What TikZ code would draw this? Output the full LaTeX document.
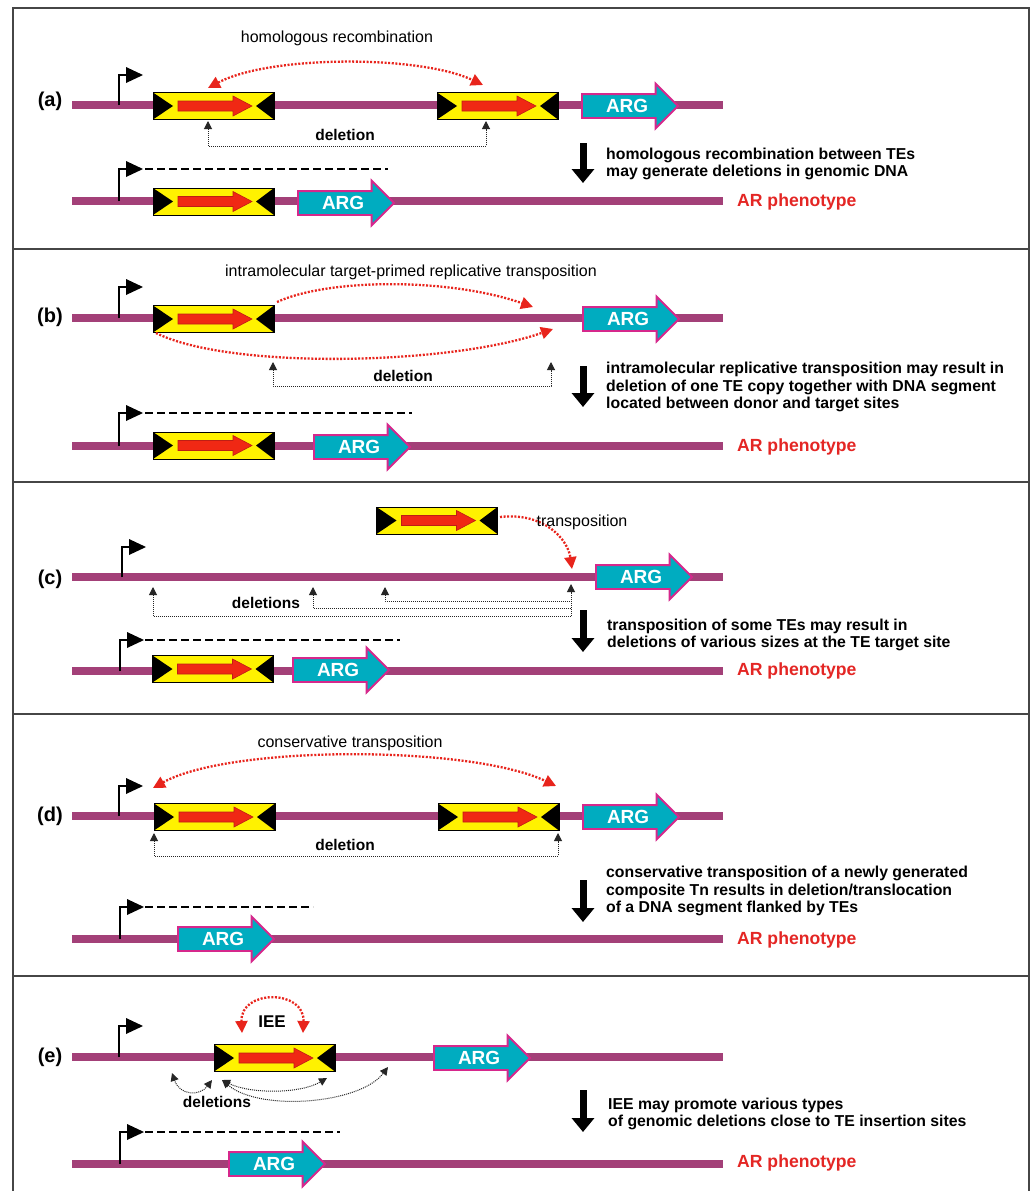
\documentclass[tikz,border=0pt]{standalone}
\usepackage{fontspec}
\setmainfont{Liberation Sans}
\usetikzlibrary{arrows.meta,shapes.arrows,calc}
\definecolor{dnacol}{RGB}{163,64,120}
\definecolor{teyellow}{RGB}{255,242,0}
\definecolor{tered}{RGB}{240,40,20}
\definecolor{tereddark}{RGB}{190,30,20}
\definecolor{argfill}{RGB}{0,172,192}
\definecolor{argedge}{RGB}{214,40,140}
\definecolor{phenored}{RGB}{228,38,36}
\definecolor{dotred}{RGB}{232,36,28}
\definecolor{framecol}{RGB}{70,70,70}
\newcommand{\promoterflag}[3]{%
  \draw[prom] (#1,#2) |- (#1+8,#3);
  \fill[black] (#1+7,#3-8) -- (#1+24,#3) -- (#1+7,#3+8) -- cycle;}
\tikzset{
  dna/.style={draw=dnacol, line width=7.5pt},
  prom/.style={draw=black, line width=2.6pt},
  txline/.style={draw=black, line width=2pt, dash pattern=on 8pt off 4pt},
  frame/.style={draw=framecol, line width=1.5pt},
  te/.style={rectangle, draw=black, line width=1pt, fill=teyellow,
    minimum width=121pt, minimum height=27pt, inner sep=0pt, outer sep=0pt,
    path picture={
      \fill[black] (path picture bounding box.north west) -- (path picture bounding box.south west) -- ($(path picture bounding box.west)+(20,0)$) -- cycle;
      \fill[black] (path picture bounding box.north east) -- (path picture bounding box.south east) -- ($(path picture bounding box.east)+(-18,0)$) -- cycle;
      \filldraw[fill=tered, draw=tereddark, line width=0.6pt]
        ($(path picture bounding box.west)+(25,-5)$) -- ++(55,0) -- ++(0,-5) -- ++(19,10) -- ++(-19,10) -- ++(0,-5) -- ++(-55,0) -- cycle;
    }},
  arg/.style={single arrow, draw=argedge, line width=1.8pt, fill=argfill,
    minimum height=96pt, inner xsep=0pt, inner ysep=11pt,
    single arrow head extend=10.5pt, outer sep=0pt, anchor=tail},
  argtxt/.style={text=white, font=\bfseries\fontsize{19}{19}\selectfont, inner sep=0pt, text depth=0pt},
  panellbl/.style={font=\bfseries\fontsize{20}{22}\selectfont, inner sep=0pt},
  mech/.style={font=\fontsize{16}{18}\selectfont, inner sep=0pt},
  deltxt/.style={font=\bfseries\fontsize{15.5}{18}\selectfont, inner sep=0pt},
  captxt/.style={font=\bfseries\fontsize{15.8}{17.8}\selectfont, align=left, inner sep=0pt, anchor=west},
  pheno/.style={font=\bfseries\fontsize{17.6}{19}\selectfont, text=phenored, inner sep=0pt, anchor=west},
  reddot/.style={draw=dotred, line width=2.3pt, dash pattern=on 2pt off 1.6pt},
  redtip/.tip={Triangle[length=12pt,width=12pt,fill=dotred,color=dotred]},
  blkdot/.style={draw=black!85, line width=1pt, dash pattern=on 1pt off 1pt},
  blktip/.tip={Triangle[length=8pt,width=8pt]},
  bigarrow/.style={draw=black, line width=7pt, -{Triangle[length=14pt,width=22pt]}}
}
\begin{document}
\begin{tikzpicture}[x=1pt,y=-1pt]
\useasboundingbox (0,0) rectangle (1035,1191);
\fill[white] (0,0) rectangle (1035,1191);
% frame
\draw[frame] (13,1200) -- (13,8) -- (1029,8) -- (1029,1200);
\draw[frame] (13,249) -- (1029,249);
\draw[frame] (13,482) -- (1029,482);
\draw[frame] (13,714) -- (1029,714);
\draw[frame] (13,976) -- (1029,976);

% ================= (a)
\node[panellbl] (la) at (50,101) {(a)};
\draw[dna] (72,105) -- (723,105);
\promoterflag{119}{105}{75}
\node[te] (ta1) at (213.5,106) {};
\node[te] (ta2) at (497.5,106) {};
\node[arg] (ga1) at (582,106) {};
\node[argtxt] at ($(ga1.tail)!0.47!(ga1.tip)$) {ARG};
\coordinate (ra1) at (208,88);
\coordinate (ra2) at (483,85);
\draw[reddot,redtip-redtip] (ra1) .. controls (270,55) and (420,55) .. (ra2);
\node[mech] (ma) at (337,38) {homologous recombination};
\coordinate (da1) at (208,121);
\coordinate (da2) at (486,121);
\draw[blkdot,blktip-blktip] (da1) -- ++(0,25) -| (da2);
\node[deltxt] (dla) at (345,135) {deletion};
\coordinate (ba1) at (583,143);
\coordinate (ba2) at (583,183);
\draw[bigarrow] (ba1) -- (ba2);
\node[captxt] (ca) at (606,164) {homologous recombination between TEs\\may generate deletions in genomic DNA};
\draw[dna] (72,201) -- (723,201);
\promoterflag{119}{201}{169}
\draw[txline] (145,169) -- (388,169);
\node[te] (ta3) at (213.5,201.5) {};
\node[arg] (ga2) at (298,203) {};
\node[argtxt] at ($(ga2.tail)!0.47!(ga2.tip)$) {ARG};
\node[pheno] (pa) at (737,202) {AR phenotype};

% ================= (b)
\node[panellbl] (lb) at (50,317) {(b)};
\draw[dna] (72,318) -- (723,318);
\promoterflag{119}{318}{287}
\node[te] (tb1) at (213.5,319) {};
\node[arg] (gb1) at (583,319) {};
\node[argtxt] at ($(gb1.tail)!0.47!(gb1.tip)$) {ARG};
\coordinate (rb1) at (277,302);
\coordinate (rb2) at (533,307);
\coordinate (rb3) at (156,333);
\coordinate (rb4) at (553,329);
\draw[reddot,-redtip] (rb1) .. controls (330,278) and (450,278) .. (rb2);
\draw[reddot,-redtip] (rb3) .. controls (230,370) and (450,365) .. (rb4);
\node[mech] (mb) at (411,272) {intramolecular target-primed replicative transposition};
\coordinate (db1) at (273,362);
\coordinate (db2) at (551,362);
\draw[blkdot,blktip-blktip] (db1) -- ++(0,24) -| (db2);
\node[deltxt] (dlb) at (403,376) {deletion};
\coordinate (bb1) at (583,366);
\coordinate (bb2) at (583,407);
\draw[bigarrow] (bb1) -- (bb2);
\node[captxt] (cb) at (606,387) {intramolecular replicative transposition may result in\\deletion of one TE copy together with DNA segment\\located between donor and target sites};
\draw[dna] (72,446) -- (723,446);
\promoterflag{119}{446}{413}
\draw[txline] (145,413) -- (412,413);
\node[te] (tb2) at (213.5,445.5) {};
\node[arg] (gb2) at (314,447) {};
\node[argtxt] at ($(gb2.tail)!0.47!(gb2.tip)$) {ARG};
\node[pheno] (pb) at (737,447) {AR phenotype};

% ================= (c)
\node[panellbl] (lc) at (50,579) {(c)};
\draw[dna] (72,577) -- (723,577);
\promoterflag{122}{577}{547}
\node[te] (tc1) at (437,520.5) {};
\node[arg] (gc1) at (596,577) {};
\node[argtxt] at ($(gc1.tail)!0.47!(gc1.tip)$) {ARG};
\coordinate (rc1) at (500,517);
\coordinate (rc2) at (572,569);
\draw[reddot,-redtip] (rc1) .. controls (545,512) and (568,540) .. (rc2);
\node[mech] (mc) at (582,522) {transposition};
\coordinate (dc1) at (153,587);
\coordinate (dc2) at (313,587);
\coordinate (dc3) at (385,587);
\coordinate (dcr) at (571,584);
\coordinate (dcb) at (571,616);
\draw[blkdot,blktip-] (dc1) -- (153,616) -- (dcb);
\draw[blkdot,blktip-] (dc2) -- (313,608) -- (571,608);
\draw[blkdot,blktip-] (dc3) -- (385,601) -- (571,601);
\draw[blkdot,-blktip] (dcb) -- (dcr);
\node[deltxt] (dlc) at (266,603) {deletions};
\coordinate (bc1) at (583,610);
\coordinate (bc2) at (583,652);
\draw[bigarrow] (bc1) -- (bc2);
\node[captxt] (cc) at (607,635) {transposition of some TEs may result in\\deletions of various sizes at the TE target site};
\draw[dna] (72,671) -- (723,671);
\promoterflag{120}{671}{640}
\draw[txline] (145,640) -- (400,640);
\node[te] (tc2) at (213,669) {};
\node[arg] (gc2) at (293,670) {};
\node[argtxt] at ($(gc2.tail)!0.47!(gc2.tip)$) {ARG};
\node[pheno] (pc) at (737,671) {AR phenotype};

% ================= (d)
\node[panellbl] (ld) at (50,816) {(d)};
\draw[dna] (72,816) -- (723,816);
\promoterflag{119}{816}{786}
\node[te] (td1) at (214.5,817) {};
\node[te] (td2) at (498.5,817) {};
\node[arg] (gd1) at (583,817) {};
\node[argtxt] at ($(gd1.tail)!0.47!(gd1.tip)$) {ARG};
\coordinate (rd1) at (153,788);
\coordinate (rd2) at (556,786);
\draw[reddot,redtip-redtip] (rd1) .. controls (230,745) and (470,745) .. (rd2);
\node[mech] (md) at (350,743) {conservative transposition};
\coordinate (dd1) at (154,833);
\coordinate (dd2) at (558,833);
\draw[blkdot,blktip-blktip] (dd1) -- ++(0,23) -| (dd2);
\node[deltxt] (dld) at (345,845) {deletion};
\coordinate (bd1) at (583,880);
\coordinate (bd2) at (583,922);
\draw[bigarrow] (bd1) -- (bd2);
\node[captxt] (cd) at (606,891) {conservative transposition of a newly generated\\composite Tn results in deletion/translocation\\of a DNA segment flanked by TEs};
\draw[dna] (72,939) -- (723,939);
\promoterflag{120}{939}{907}
\draw[txline] (145,907) -- (313,907);
\node[arg] (gd2) at (178,939) {};
\node[argtxt] at ($(gd2.tail)!0.47!(gd2.tip)$) {ARG};
\node[pheno] (pd) at (737,940) {AR phenotype};

% ================= (e)
\node[panellbl] (le) at (50,1057) {(e)};
\draw[dna] (72,1057) -- (723,1057);
\promoterflag{119}{1057}{1026}
\node[te] (te1) at (274.5,1058) {};
\node[arg] (ge1) at (434,1058) {};
\node[argtxt] at ($(ge1.tail)!0.47!(ge1.tip)$) {ARG};
\coordinate (re1) at (242,1033);
\coordinate (re2) at (303,1033);
\draw[reddot,redtip-redtip] (re1) .. controls (240,989) and (305,989) .. (re2);
\node[font=\bfseries\fontsize{17}{18}\selectfont, inner sep=0pt] (iee) at (272,1022) {IEE};
\coordinate (de0) at (212,1080);
\coordinate (de1) at (172,1073);
\coordinate (de4) at (222,1080);
\coordinate (de2) at (327,1078);
\coordinate (de3) at (388,1067);
\draw[blkdot,blktip-blktip] (de0) .. controls (200,1096) and (180,1096) .. (de1);
\draw[blkdot,blktip-blktip] (de4) .. controls (250,1094) and (300,1094) .. (de2);
\draw[blkdot,blktip-blktip] (de4) .. controls (260,1112) and (360,1104) .. (de3);
\node[deltxt] (dle) at (217,1102) {deletions};
\coordinate (be1) at (583,1090);
\coordinate (be2) at (583,1132);
\draw[bigarrow] (be1) -- (be2);
\node[captxt] (ce) at (608,1114) {IEE may promote various types\\of genomic deletions close to TE insertion sites};
\draw[dna] (72,1164) -- (723,1164);
\promoterflag{120}{1164}{1132}
\draw[txline] (145,1132) -- (340,1132);
\node[arg] (ge2) at (229,1164) {};
\node[argtxt] at ($(ge2.tail)!0.47!(ge2.tip)$) {ARG};
\node[pheno] (pe) at (737,1163) {AR phenotype};
\end{tikzpicture}
\end{document}
